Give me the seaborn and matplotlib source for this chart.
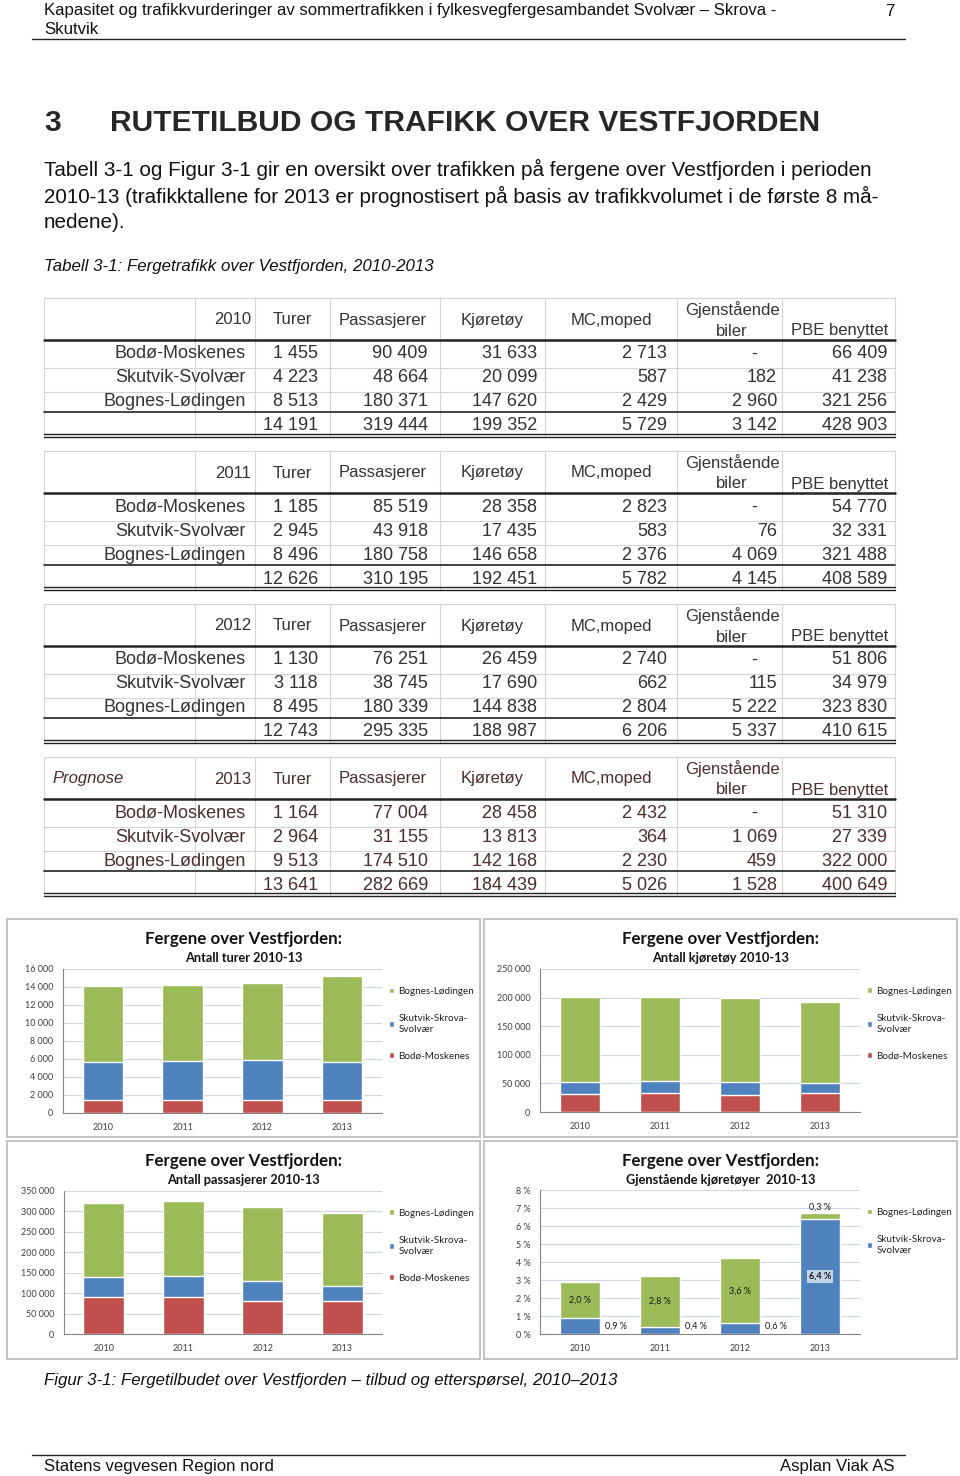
import numpy as np
import pandas as pd
import matplotlib
matplotlib.use("Agg")
import matplotlib.pyplot as plt
import seaborn as sns
from matplotlib.ticker import FuncFormatter

# Tabell 3-1 data
routes = ["Bodø-Moskenes", "Skutvik-Svolvær", "Bognes-Lødingen"]
columns = ["Turer", "Passasjerer", "Kjøretøy", "MC,moped", "Gjenstående\nbiler", "PBE benyttet"]
table_years = ["2010", "2011", "2012", "2013"]

rows_2010 = [[1455, 90409, 31633, 2713, None, 66409],
             [4223, 48664, 20099, 587, 182, 41238],
             [8513, 180371, 147620, 2429, 2960, 321256],
             [14191, 319444, 199352, 5729, 3142, 428903]]
rows_2011 = [[1185, 85519, 28358, 2823, None, 54770],
             [2945, 43918, 17435, 583, 76, 32331],
             [8496, 180758, 146658, 2376, 4069, 321488],
             [12626, 310195, 192451, 5782, 4145, 408589]]
rows_2012 = [[1130, 76251, 26459, 2740, None, 51806],
             [3118, 38745, 17690, 662, 115, 34979],
             [8495, 180339, 144838, 2804, 5222, 323830],
             [12743, 295335, 188987, 6206, 5337, 410615]]
rows_2013 = [[1164, 77004, 28458, 2432, None, 51310],
             [2964, 31155, 13813, 364, 1069, 27339],
             [9513, 174510, 142168, 2230, 459, 322000],
             [13641, 282669, 184439, 5026, 1528, 400649]]

# Figur 3-1 data
chart_years = ["2010", "2011", "2012", "2013"]
legend_names = ["Bodø-Moskenes", "Skutvik-Skrova-\nSvolvær", "Bognes-Lødingen"]

turer_bodo = [1480, 1480, 1480, 1480]
turer_skutvik = [4200, 4260, 4410, 4200]
turer_bognes = [8470, 8520, 8610, 9580]

kjoretoy_bodo = [32000, 32500, 29700, 32500]
kjoretoy_skutvik = [20300, 21500, 22600, 17500]
kjoretoy_bognes = [148300, 147700, 146500, 142400]

pass_bodo = [90800, 90800, 81800, 81800]
pass_skutvik = [49000, 52200, 48200, 36800]
pass_bognes = [179900, 182400, 180700, 176600]

gjenst_skutvik = [0.9, 0.4, 0.6, 6.4]
gjenst_bognes = [2.0, 2.8, 3.6, 0.3]

RED, BLUE, GREEN = "#C0504D", "#4F81BD", "#9BBB59"

sns.set_style("white")
plt.rcParams["font.family"] = ["Liberation Sans", "DejaVu Sans"]

W, H = 960, 1476
fig = plt.figure(figsize=(W / 100, H / 100), dpi=100)
page = fig.add_axes([0, 0, 1, 1])
page.set_xlim(0, W)
page.set_ylim(H, 0)
page.axis("off")


def rect(x0, y0, x1, y1):
    return [x0 / W, 1 - y1 / H, (x1 - x0) / W, (y1 - y0) / H]


def fmt_num(v):
    return f"{v:,}".replace(",", " ")


# page header
page.text(44, 11, "Kapasitet og trafikkvurderinger av sommertrafikken i fylkesvegfergesambandet Svolvær – Skrova -",
          fontsize=12.1, va="center", color="#111")
page.text(44, 29, "Skutvik", fontsize=12.1, va="center", color="#111")
page.text(895, 11, "7", fontsize=12.1, va="center", ha="right", color="#111")
page.plot([32, 905], [39, 39], color="#222", lw=1)

page.text(44, 123, "3", fontsize=21.6, fontweight="bold", va="center")
page.text(110, 123, "RUTETILBUD OG TRAFIKK OVER VESTFJORDEN", fontsize=21.6, fontweight="bold", va="center")

para = ["Tabell 3-1 og Figur 3-1 gir en oversikt over trafikken på fergene over Vestfjorden i perioden",
        "2010-13 (trafikktallene for 2013 er prognostisert på basis av trafikkvolumet i de første 8 må-",
        "nedene)."]
for i, line in enumerate(para):
    page.text(44, 169 + 27 * i, line, fontsize=14.9, va="center", color="#111")

page.text(44, 267, "Tabell 3-1: Fergetrafikk over Vestfjorden, 2010-2013", fontsize=12.2,
          style="italic", va="center", color="#111")

# tables
col_lines = [44, 195, 255, 330, 440, 545, 677, 782, 895]
head_x = [292, 383, 492, 611, 732, 840]
val_right = [318, 428, 537, 667, 777, 887]


def draw_table(top, year, rows, color, prognose=False):
    grid = "#d4d4d4"
    for x in col_lines:
        page.plot([x, x], [top, top + 139], color=grid, lw=0.8)
    for y in (top, top + 70, top + 94):
        page.plot([44, 895], [y, y], color=grid, lw=0.8)
    page.plot([44, 895], [top + 42, top + 42], color="#222", lw=1.8)
    page.plot([44, 895], [top + 114, top + 114], color="#222", lw=1.2)
    page.plot([44, 895], [top + 136, top + 136], color="#222", lw=1.0)
    page.plot([44, 895], [top + 139, top + 139], color="#222", lw=1.0)
    fs = 13
    hs = 12
    if prognose:
        page.text(52, top + 22, "Prognose", fontsize=hs, style="italic", va="center", color=color)
    page.text(251, top + 22, year, fontsize=hs, ha="right", va="center", color=color)
    for j, name in enumerate(columns):
        if "\n" in name:
            a, b = name.split("\n")
            page.text(head_x[j], top + 12, a, fontsize=hs, ha="center", va="center", color=color)
            page.text(head_x[j], top + 33, b, fontsize=hs, ha="center", va="center", color=color)
        elif name == "PBE benyttet":
            page.text(head_x[j], top + 33, name, fontsize=hs, ha="center", va="center", color=color)
        else:
            page.text(head_x[j], top + 22, name, fontsize=hs, ha="center", va="center", color=color)
    row_y = [top + 56, top + 80, top + 104, top + 128]
    for r, vals in enumerate(rows):
        if r < 3:
            page.text(246, row_y[r], routes[r], fontsize=fs, ha="right", va="center", color=color)
        for j, v in enumerate(vals):
            if v is None:
                page.text(val_right[j] - 20, row_y[r], "-", fontsize=fs, ha="right", va="center", color=color)
            else:
                page.text(val_right[j], row_y[r], fmt_num(v), fontsize=fs, ha="right", va="center", color=color)


all_rows = [rows_2010, rows_2011, rows_2012, rows_2013]
for i, yr in enumerate(table_years):
    col = "#4a2e2e" if yr == "2013" else "#333333"
    draw_table(298 + 153 * i, yr, all_rows[i], col, prognose=(yr == "2013"))

# charts
CF = ["Lato", "DejaVu Sans"]


def chart(box, plot, sub, layers, colors, names, ymax, step, pct=False, leg_y=0.875):
    bx0, by0, bx1, by1 = box
    page.add_patch(plt.Rectangle((bx0, by0), bx1 - bx0, by1 - by0, fill=False,
                                 edgecolor="#bdbdbd", lw=1.3))
    cx = (bx0 + bx1) / 2
    page.text(cx, by0 + 20, "Fergene over Vestfjorden:", family=CF, fontsize=12.2,
              fontweight="bold", ha="center", va="center", color="#111")
    page.text(cx, by0 + 39, sub, family=CF, fontsize=9.2, fontweight="bold",
              ha="center", va="center", color="#111")
    ax = fig.add_axes(rect(*plot))
    ax.patch.set_alpha(0)
    cum = np.cumsum(np.array(layers, dtype=float), axis=0)
    for k in range(len(layers) - 1, -1, -1):
        sns.barplot(x=chart_years, y=cum[k], color=colors[k], width=0.51, saturation=1,
                    ax=ax, label=names[k], zorder=3)
    ax.set_ylim(0, ymax)
    ax.set_xlim(-0.5, 3.5)
    ax.set_yticks(np.arange(0, ymax + step / 2, step))
    if pct:
        ax.yaxis.set_major_formatter(FuncFormatter(lambda v, p: f"{int(round(v))} %"))
    else:
        ax.yaxis.set_major_formatter(FuncFormatter(lambda v, p: fmt_num(int(v))))
    ax.set_axisbelow(True)
    ax.yaxis.grid(True, color="#cfd8e2", lw=0.8)
    ax.xaxis.grid(False)
    for s in ("top", "right"):
        ax.spines[s].set_visible(False)
    for s in ("left", "bottom"):
        ax.spines[s].set_color("#868686")
        ax.spines[s].set_linewidth(0.8)
    ax.set_xticks([-0.5, 0.5, 1.5, 2.5, 3.5], minor=True)
    ax.tick_params(axis="x", which="major", length=0, labelsize=6.5, labelcolor="#404040", pad=7)
    ax.tick_params(axis="x", which="minor", length=4, width=0.6, color="#868686")
    ax.tick_params(axis="y", length=3, width=0.6, color="#868686", labelsize=6.5,
                   labelcolor="#404040", pad=4)
    for lab in ax.get_xticklabels() + ax.get_yticklabels():
        lab.set_family(CF)
    ax.set_xlabel("")
    ax.set_ylabel("")
    leg = ax.legend(loc="upper left", bbox_to_anchor=(1.022, leg_y), frameon=False,
                    prop={"family": CF, "size": 7.1}, handlelength=0.55, handleheight=0.55,
                    handletextpad=0.4, labelspacing=1.8, borderaxespad=0, borderpad=0)
    for t in leg.get_texts():
        t.set_color("#222")
        t.set_linespacing(1.35)
    return ax


chart((7, 919, 480, 1137), (63, 969, 382, 1113), "Antall turer 2010-13",
      [turer_bodo, turer_skutvik, turer_bognes], [RED, BLUE, GREEN], legend_names, 16000, 2000)
chart((484, 919, 957, 1137), (540, 969, 860, 1112), "Antall kjøretøy 2010-13",
      [kjoretoy_bodo, kjoretoy_skutvik, kjoretoy_bognes], [RED, BLUE, GREEN], legend_names, 250000, 50000)
chart((7, 1141, 480, 1359), (64, 1191, 382, 1334), "Antall passasjerer 2010-13",
      [pass_bodo, pass_skutvik, pass_bognes], [RED, BLUE, GREEN], legend_names, 350000, 50000)
ax4 = chart((484, 1141, 957, 1359), (540, 1190, 860, 1334), "Gjenstående kjøretøyer  2010-13",
            [gjenst_skutvik, gjenst_bognes], [BLUE, GREEN], legend_names[1:], 8, 1, pct=True,
            leg_y=0.875)


def pct_lab(v):
    return f"{v:.1f}".replace(".", ",") + " %"


for i in range(4):
    b = gjenst_skutvik[i]
    g = gjenst_bognes[i]
    if b > 3:
        ax4.text(i, b / 2, pct_lab(b), family=CF, fontsize=6.5, fontweight="bold", ha="center",
                 va="center", color="#1a1a1a", zorder=5,
                 bbox=dict(boxstyle="square,pad=0.25", fc="#c3d3ea", ec="none"))
    else:
        ax4.text(i + 0.45, 0.42, pct_lab(b), family=CF, fontsize=6.5, ha="center", va="center",
                 color="#1a1a1a", zorder=5)
    if g > 1:
        ax4.text(i, b + g / 2, pct_lab(g), family=CF, fontsize=6.5, ha="center", va="center",
                 color="#1a1a1a", zorder=5)
    else:
        ax4.text(i, b + g + 0.12, pct_lab(g), family=CF, fontsize=6.5, ha="center", va="bottom",
                 color="#1a1a1a", zorder=5)

page.text(44, 1381, "Figur 3-1: Fergetilbudet over Vestfjorden – tilbud og etterspørsel, 2010–2013",
          fontsize=12.2, style="italic", va="center", color="#111")

page.plot([32, 905], [1455, 1455], color="#222", lw=1)
page.text(44, 1467, "Statens vegvesen Region nord", fontsize=12.1, va="center", color="#111")
page.text(895, 1467, "Asplan Viak AS", fontsize=12.1, va="center", ha="right", color="#111")

fig.savefig("out.png", dpi=100)
